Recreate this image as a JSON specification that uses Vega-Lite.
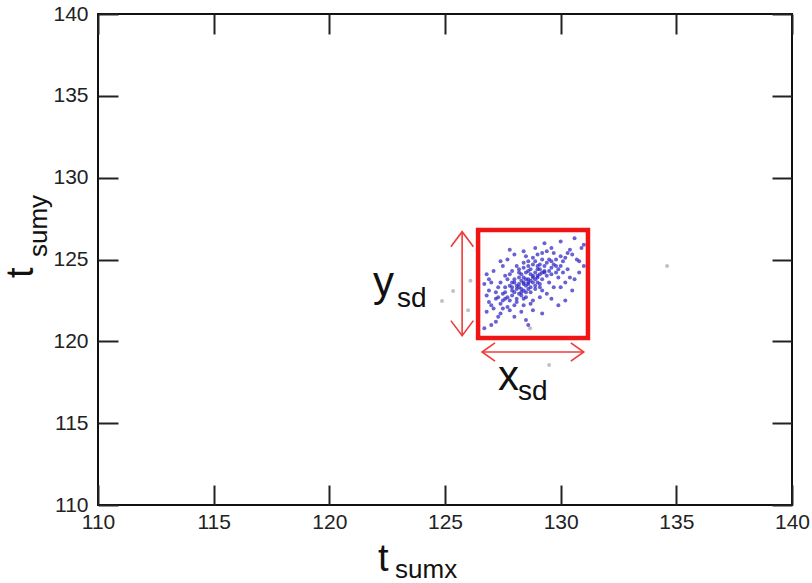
{
  "$schema": "https://vega.github.io/schema/vega-lite/v6.json",
  "width": 694,
  "height": 491,
  "autosize": {"type": "none"},
  "padding": {"left": 98, "top": 14, "right": 20, "bottom": 78},
  "background": "#ffffff",
  "config": {
    "view": {"stroke": "#111111", "strokeWidth": 2},
    "axis": {
      "grid": false,
      "domain": false,
      "tickColor": "#222222",
      "tickWidth": 2,
      "tickSize": -20,
      "labelFont": "Liberation Sans",
      "labelFontSize": 21,
      "labelColor": "#222222",
      "title": null
    }
  },
  "datasets": {
    "points": [
      {"x":127.2,"y":122.6,"kind":"cluster"},{"x":127.5,"y":122.9,"kind":"cluster"},{"x":127.9,"y":123.1,"kind":"cluster"},{"x":128.1,"y":123.4,"kind":"cluster"},
      {"x":128.3,"y":123.2,"kind":"cluster"},{"x":128.4,"y":123.6,"kind":"cluster"},{"x":128.6,"y":123.5,"kind":"cluster"},{"x":128.8,"y":123.9,"kind":"cluster"},
      {"x":129.0,"y":124.0,"kind":"cluster"},{"x":129.2,"y":123.8,"kind":"cluster"},{"x":128.2,"y":122.9,"kind":"cluster"},{"x":128.0,"y":123.6,"kind":"cluster"},
      {"x":127.6,"y":123.3,"kind":"cluster"},{"x":127.4,"y":122.3,"kind":"cluster"},{"x":127.1,"y":122.0,"kind":"cluster"},{"x":126.9,"y":122.4,"kind":"cluster"},
      {"x":126.8,"y":121.8,"kind":"cluster"},{"x":127.3,"y":121.5,"kind":"cluster"},{"x":127.7,"y":122.1,"kind":"cluster"},{"x":128.5,"y":122.7,"kind":"cluster"},
      {"x":128.9,"y":123.2,"kind":"cluster"},{"x":129.3,"y":124.3,"kind":"cluster"},{"x":129.6,"y":124.1,"kind":"cluster"},{"x":129.8,"y":124.6,"kind":"cluster"},
      {"x":130.1,"y":124.9,"kind":"cluster"},{"x":130.3,"y":124.4,"kind":"cluster"},{"x":130.0,"y":125.2,"kind":"cluster"},{"x":129.5,"y":125.0,"kind":"cluster"},
      {"x":129.1,"y":124.7,"kind":"cluster"},{"x":128.7,"y":124.4,"kind":"cluster"},{"x":128.3,"y":124.1,"kind":"cluster"},{"x":127.9,"y":124.3,"kind":"cluster"},
      {"x":128.6,"y":124.9,"kind":"cluster"},{"x":129.0,"y":125.3,"kind":"cluster"},{"x":129.4,"y":125.5,"kind":"cluster"},{"x":130.5,"y":125.3,"kind":"cluster"},
      {"x":130.7,"y":125.0,"kind":"cluster"},{"x":129.9,"y":123.9,"kind":"cluster"},{"x":130.2,"y":123.6,"kind":"cluster"},{"x":129.7,"y":123.3,"kind":"cluster"},
      {"x":129.4,"y":122.9,"kind":"cluster"},{"x":128.8,"y":122.5,"kind":"cluster"},{"x":128.4,"y":122.2,"kind":"cluster"},{"x":127.8,"y":121.9,"kind":"cluster"},
      {"x":127.2,"y":121.2,"kind":"cluster"},{"x":126.9,"y":123.1,"kind":"cluster"},{"x":127.0,"y":123.6,"kind":"cluster"},{"x":127.6,"y":124.0,"kind":"cluster"},
      {"x":128.1,"y":124.6,"kind":"cluster"},{"x":128.5,"y":125.2,"kind":"cluster"},{"x":128.0,"y":125.3,"kind":"cluster"},{"x":127.5,"y":124.6,"kind":"cluster"},
      {"x":129.2,"y":123.1,"kind":"cluster"},{"x":129.0,"y":123.6,"kind":"cluster"},{"x":128.7,"y":123.0,"kind":"cluster"},{"x":128.5,"y":124.2,"kind":"cluster"},
      {"x":128.9,"y":124.2,"kind":"cluster"},{"x":129.3,"y":124.6,"kind":"cluster"},{"x":129.6,"y":124.9,"kind":"cluster"},{"x":128.2,"y":123.9,"kind":"cluster"},
      {"x":127.9,"y":123.6,"kind":"cluster"},{"x":128.0,"y":123.0,"kind":"cluster"},{"x":128.6,"y":123.2,"kind":"cluster"},{"x":128.4,"y":123.9,"kind":"cluster"},
      {"x":129.1,"y":123.3,"kind":"cluster"},{"x":129.4,"y":124.0,"kind":"cluster"},{"x":128.3,"y":123.0,"kind":"cluster"},{"x":128.8,"y":123.6,"kind":"cluster"},
      {"x":128.1,"y":122.6,"kind":"cluster"},{"x":127.8,"y":122.5,"kind":"cluster"},{"x":127.5,"y":122.0,"kind":"cluster"},{"x":127.3,"y":123.3,"kind":"cluster"},
      {"x":126.8,"y":122.8,"kind":"cluster"},{"x":129.7,"y":125.4,"kind":"cluster"},{"x":130.4,"y":125.6,"kind":"cluster"},{"x":130.8,"y":124.2,"kind":"cluster"},
      {"x":130.6,"y":123.8,"kind":"cluster"},{"x":130.9,"y":125.7,"kind":"cluster"},{"x":129.8,"y":124.2,"kind":"cluster"},{"x":129.5,"y":123.6,"kind":"cluster"},
      {"x":128.9,"y":124.9,"kind":"cluster"},{"x":128.4,"y":124.5,"kind":"cluster"},{"x":127.7,"y":123.8,"kind":"cluster"},{"x":127.6,"y":122.6,"kind":"cluster"},
      {"x":128.7,"y":122.3,"kind":"cluster"},{"x":128.0,"y":121.5,"kind":"cluster"},{"x":127.0,"y":121.0,"kind":"cluster"},{"x":126.7,"y":120.8,"kind":"cluster"},
      {"x":129.2,"y":121.7,"kind":"cluster"},{"x":128.5,"y":121.3,"kind":"cluster"},{"x":130.2,"y":122.5,"kind":"cluster"},{"x":129.9,"y":122.2,"kind":"cluster"},
      {"x":130.5,"y":123.1,"kind":"cluster"},{"x":127.4,"y":124.9,"kind":"cluster"},{"x":127.8,"y":125.6,"kind":"cluster"},{"x":128.9,"y":125.7,"kind":"cluster"},
      {"x":129.3,"y":126.0,"kind":"cluster"},{"x":130.0,"y":126.1,"kind":"cluster"},{"x":130.6,"y":126.3,"kind":"cluster"},{"x":126.8,"y":124.1,"kind":"cluster"},
      {"x":126.7,"y":123.5,"kind":"cluster"},{"x":131.0,"y":124.6,"kind":"cluster"},{"x":128.6,"y":121.0,"kind":"cluster"},
      {"x":128.2,"y":123.3,"kind":"cluster"},{"x":128.4,"y":123.5,"kind":"cluster"},{"x":128.5,"y":123.4,"kind":"cluster"},{"x":128.7,"y":123.7,"kind":"cluster"},
      {"x":128.9,"y":123.8,"kind":"cluster"},{"x":129.1,"y":124.1,"kind":"cluster"},{"x":128.3,"y":123.7,"kind":"cluster"},{"x":128.6,"y":123.8,"kind":"cluster"},
      {"x":128.8,"y":124.0,"kind":"cluster"},{"x":129.0,"y":123.9,"kind":"cluster"},{"x":129.2,"y":124.2,"kind":"cluster"},{"x":128.1,"y":123.2,"kind":"cluster"},
      {"x":127.9,"y":123.3,"kind":"cluster"},{"x":128.4,"y":123.1,"kind":"cluster"},{"x":128.6,"y":123.6,"kind":"cluster"},{"x":129.0,"y":124.4,"kind":"cluster"},
      {"x":129.3,"y":124.2,"kind":"cluster"},{"x":128.7,"y":124.1,"kind":"cluster"},{"x":128.5,"y":123.8,"kind":"cluster"},{"x":128.2,"y":123.5,"kind":"cluster"},
      {"x":127.6,"y":123.0,"kind":"cluster"},{"x":127.8,"y":123.4,"kind":"cluster"},{"x":128.0,"y":123.8,"kind":"cluster"},{"x":128.2,"y":124.2,"kind":"cluster"},
      {"x":128.4,"y":124.8,"kind":"cluster"},{"x":128.6,"y":124.6,"kind":"cluster"},{"x":128.8,"y":124.7,"kind":"cluster"},{"x":129.0,"y":124.6,"kind":"cluster"},
      {"x":129.2,"y":125.0,"kind":"cluster"},{"x":129.4,"y":124.8,"kind":"cluster"},{"x":129.6,"y":124.5,"kind":"cluster"},{"x":129.8,"y":125.0,"kind":"cluster"},
      {"x":130.0,"y":124.6,"kind":"cluster"},{"x":130.2,"y":125.1,"kind":"cluster"},{"x":129.1,"y":123.5,"kind":"cluster"},{"x":128.9,"y":123.4,"kind":"cluster"},
      {"x":128.7,"y":123.3,"kind":"cluster"},{"x":128.5,"y":123.0,"kind":"cluster"},{"x":128.3,"y":122.8,"kind":"cluster"},{"x":128.1,"y":122.4,"kind":"cluster"},
      {"x":127.9,"y":122.8,"kind":"cluster"},{"x":127.7,"y":122.7,"kind":"cluster"},{"x":127.5,"y":122.5,"kind":"cluster"},{"x":127.3,"y":122.7,"kind":"cluster"},
      {"x":127.2,"y":123.0,"kind":"cluster"},{"x":127.4,"y":123.6,"kind":"cluster"},{"x":127.8,"y":124.1,"kind":"cluster"},{"x":128.2,"y":124.4,"kind":"cluster"},
      {"x":128.6,"y":124.3,"kind":"cluster"},{"x":129.1,"y":124.4,"kind":"cluster"},{"x":129.5,"y":124.3,"kind":"cluster"},{"x":129.7,"y":124.7,"kind":"cluster"},
      {"x":129.9,"y":124.4,"kind":"cluster"},{"x":130.1,"y":124.2,"kind":"cluster"},{"x":130.3,"y":125.4,"kind":"cluster"},{"x":129.6,"y":125.7,"kind":"cluster"},
      {"x":129.2,"y":125.4,"kind":"cluster"},{"x":128.8,"y":125.1,"kind":"cluster"},{"x":128.4,"y":125.5,"kind":"cluster"},{"x":127.7,"y":125.0,"kind":"cluster"},
      {"x":127.1,"y":124.3,"kind":"cluster"},{"x":126.9,"y":123.8,"kind":"cluster"},{"x":127.0,"y":122.2,"kind":"cluster"},{"x":127.4,"y":121.7,"kind":"cluster"},
      {"x":128.3,"y":121.8,"kind":"cluster"},{"x":128.8,"y":121.9,"kind":"cluster"},{"x":129.6,"y":122.6,"kind":"cluster"},{"x":130.0,"y":123.3,"kind":"cluster"},
      {"x":130.4,"y":123.9,"kind":"cluster"},{"x":130.8,"y":124.9,"kind":"cluster"},{"x":131.0,"y":125.9,"kind":"cluster"},{"x":129.1,"y":122.7,"kind":"cluster"},
      {"x":128.4,"y":122.6,"kind":"cluster"},{"x":128.0,"y":122.2,"kind":"cluster"},
      {"x":134.6,"y":124.6,"kind":"stray"},{"x":124.87,"y":122.46,"kind":"stray"},{"x":125.35,"y":123.07,"kind":"stray"},{"x":126.1,"y":123.7,"kind":"stray"},
      {"x":126.0,"y":121.9,"kind":"stray"},{"x":129.5,"y":118.55,"kind":"stray"},{"x":128.68,"y":120.8,"kind":"stray"}
    ],
    "box": [{"x": 126.43, "x2": 131.18, "y": 120.2, "y2": 126.8}],
    "arrows": [
      {"arrow": "v", "x": 125.74, "y": 120.35, "x2": 125.74, "y2": 126.7},
      {"arrow": "h", "x": 126.6, "y": 119.35, "x2": 131.0, "y2": 119.35}
    ],
    "labels": [
      {"text": "y", "part": "main", "x": 121.89, "y": 122.77},
      {"text": "sd", "part": "sub", "x": 122.93, "y": 122.1},
      {"text": "x", "part": "main", "x": 127.29, "y": 117.02},
      {"text": "sd", "part": "sub", "x": 128.16, "y": 116.41}
    ],
    "titles": [
      {"text": "t", "part": "main", "axis": "x", "x": 122.1, "y": 105.95},
      {"text": "sumx", "part": "sub", "axis": "x", "x": 122.84, "y": 105.55},
      {"text": "t", "part": "main", "axis": "y", "x": 107.19, "y": 123.87},
      {"text": "sumy", "part": "sub", "axis": "y", "x": 107.8, "y": 125.15}
    ]
  },
  "layer": [
    {
      "data": {"name": "points"},
      "mark": {"type": "point", "filled": true, "size": 16, "opacity": 0.7},
      "encoding": {
        "x": {"field": "x", "type": "quantitative", "scale": {"domain": [110, 140], "nice": false, "zero": false},
              "axis": {"orient": "bottom", "values": [110,115,120,125,130,135,140], "labelPadding": 26, "labelFlush": false}},
        "y": {"field": "y", "type": "quantitative", "scale": {"domain": [110, 140], "nice": false, "zero": false},
              "axis": {"orient": "left", "values": [110,115,120,125,130,135,140], "labelPadding": 30}},
        "color": {"field": "kind", "type": "nominal", "scale": {"domain": ["cluster", "stray"], "range": ["#2a20c0", "#a5a5b0"]}, "legend": null}
      }
    },
    {
      "data": {"name": "box"},
      "mark": {"type": "rect", "fill": null, "stroke": "#f01414", "strokeWidth": 4.5},
      "encoding": {
        "x": {"field": "x", "type": "quantitative", "axis": null},
        "x2": {"field": "x2"},
        "y": {"field": "y", "type": "quantitative", "axis": null},
        "y2": {"field": "y2"}
      }
    },
    {
      "data": {"name": "arrows"},
      "mark": {"type": "rule", "color": "#f03a3a", "strokeWidth": 1.6},
      "encoding": {
        "x": {"field": "x", "type": "quantitative", "axis": null},
        "x2": {"field": "x2"},
        "y": {"field": "y", "type": "quantitative", "axis": null},
        "y2": {"field": "y2"}
      }
    },
    {
      "data": {"name": "arrows"},
      "transform": [{"filter": "datum.arrow === 'v'"}],
      "mark": {"type": "point", "shape": "M-0.75,1L0,0L0.75,1", "filled": false, "stroke": "#f03a3a", "strokeWidth": 1.6, "size": 900, "opacity": 1},
      "encoding": {
        "x": {"field": "x", "type": "quantitative", "axis": null},
        "y": {"field": "y2", "type": "quantitative", "axis": null}
      }
    },
    {
      "data": {"name": "arrows"},
      "transform": [{"filter": "datum.arrow === 'v'"}],
      "mark": {"type": "point", "shape": "M-0.75,-1L0,0L0.75,-1", "filled": false, "stroke": "#f03a3a", "strokeWidth": 1.6, "size": 900, "opacity": 1},
      "encoding": {
        "x": {"field": "x", "type": "quantitative", "axis": null},
        "y": {"field": "y", "type": "quantitative", "axis": null}
      }
    },
    {
      "data": {"name": "arrows"},
      "transform": [{"filter": "datum.arrow === 'h'"}],
      "mark": {"type": "point", "shape": "M1,-0.7L0,0L1,0.7", "filled": false, "stroke": "#f03a3a", "strokeWidth": 1.6, "size": 676, "opacity": 1},
      "encoding": {
        "x": {"field": "x", "type": "quantitative", "axis": null},
        "y": {"field": "y", "type": "quantitative", "axis": null}
      }
    },
    {
      "data": {"name": "arrows"},
      "transform": [{"filter": "datum.arrow === 'h'"}],
      "mark": {"type": "point", "shape": "M-1,-0.7L0,0L-1,0.7", "filled": false, "stroke": "#f03a3a", "strokeWidth": 1.6, "size": 676, "opacity": 1},
      "encoding": {
        "x": {"field": "x2", "type": "quantitative", "axis": null},
        "y": {"field": "y2", "type": "quantitative", "axis": null}
      }
    },
    {
      "data": {"name": "labels"},
      "transform": [{"filter": "datum.part === 'main'"}],
      "mark": {"type": "text", "align": "left", "baseline": "alphabetic", "font": "Liberation Sans", "fontSize": 42, "color": "#111111"},
      "encoding": {
        "x": {"field": "x", "type": "quantitative", "axis": null},
        "y": {"field": "y", "type": "quantitative", "axis": null},
        "text": {"field": "text"}
      }
    },
    {
      "data": {"name": "labels"},
      "transform": [{"filter": "datum.part === 'sub'"}],
      "mark": {"type": "text", "align": "left", "baseline": "alphabetic", "font": "Liberation Sans", "fontSize": 28, "color": "#111111"},
      "encoding": {
        "x": {"field": "x", "type": "quantitative", "axis": null},
        "y": {"field": "y", "type": "quantitative", "axis": null},
        "text": {"field": "text"}
      }
    },
    {
      "data": {"name": "titles"},
      "transform": [{"filter": "datum.axis === 'x' && datum.part === 'main'"}],
      "mark": {"type": "text", "align": "left", "baseline": "alphabetic", "font": "Liberation Sans", "fontSize": 38, "color": "#111111"},
      "encoding": {
        "x": {"field": "x", "type": "quantitative", "axis": null},
        "y": {"field": "y", "type": "quantitative", "axis": null},
        "text": {"field": "text"}
      }
    },
    {
      "data": {"name": "titles"},
      "transform": [{"filter": "datum.axis === 'x' && datum.part === 'sub'"}],
      "mark": {"type": "text", "align": "left", "baseline": "alphabetic", "font": "Liberation Sans", "fontSize": 26, "color": "#111111"},
      "encoding": {
        "x": {"field": "x", "type": "quantitative", "axis": null},
        "y": {"field": "y", "type": "quantitative", "axis": null},
        "text": {"field": "text"}
      }
    },
    {
      "data": {"name": "titles"},
      "transform": [{"filter": "datum.axis === 'y' && datum.part === 'main'"}],
      "mark": {"type": "text", "align": "left", "baseline": "alphabetic", "angle": 270, "font": "Liberation Sans", "fontSize": 38, "color": "#111111"},
      "encoding": {
        "x": {"field": "x", "type": "quantitative", "axis": null},
        "y": {"field": "y", "type": "quantitative", "axis": null},
        "text": {"field": "text"}
      }
    },
    {
      "data": {"name": "titles"},
      "transform": [{"filter": "datum.axis === 'y' && datum.part === 'sub'"}],
      "mark": {"type": "text", "align": "left", "baseline": "alphabetic", "angle": 270, "font": "Liberation Sans", "fontSize": 26, "color": "#111111"},
      "encoding": {
        "x": {"field": "x", "type": "quantitative", "axis": null},
        "y": {"field": "y", "type": "quantitative", "axis": null},
        "text": {"field": "text"}
      }
    },
    {
      "data": {"values": [{"v": 110}]},
      "mark": {"type": "rule", "opacity": 0},
      "encoding": {
        "x": {"field": "v", "type": "quantitative", "axis": {"orient": "top", "values": [110,115,120,125,130,135,140], "labels": false}},
        "y": {"field": "v", "type": "quantitative", "axis": {"orient": "right", "values": [110,115,120,125,130,135,140], "labels": false}}
      }
    }
  ],
  "resolve": {"scale": {"x": "shared", "y": "shared"}, "axis": {"x": "independent", "y": "independent"}}
}
